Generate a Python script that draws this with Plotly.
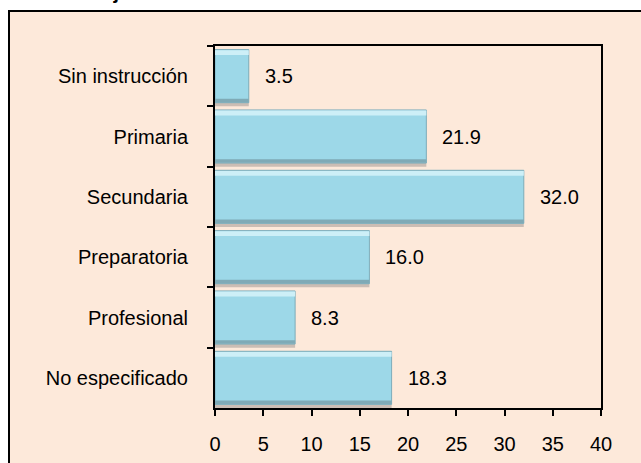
import plotly.graph_objects as go

categories = ["Sin instrucción", "Primaria", "Secundaria", "Preparatoria", "Profesional", "No especificado"]
values = [3.5, 21.9, 32.0, 16.0, 8.3, 18.3]
x_ticks = [0, 5, 10, 15, 20, 25, 30, 35, 40]

W, H = 641, 463
L, R, T, B = 215, 40, 46, 55
pw, ph = W - L - R, H - T - B
FONT = "Liberation Sans, Arial"

def px(x):
    return (x - L) / pw

def py(y):
    return 1 - (y - T) / ph

fig = go.Figure()
# soft shadow
fig.add_trace(go.Bar(
    y=categories, x=values, orientation="h", width=0.92, offset=-0.42,
    marker=dict(color="rgba(110,110,110,0.35)", line=dict(width=0)),
    hoverinfo="skip", showlegend=False,
))
# main bar
fig.add_trace(go.Bar(
    y=categories, x=values, orientation="h", width=0.88, offset=-0.44,
    marker=dict(color="#9DD8E8", line=dict(color="#7FAEBB", width=1)),
    showlegend=False,
))
# top highlight
fig.add_trace(go.Bar(
    y=categories, x=values, orientation="h", width=0.08, offset=-0.43,
    marker=dict(color="#CDEFF7", line=dict(width=0)),
    hoverinfo="skip", showlegend=False,
))
# bottom darker bevel
fig.add_trace(go.Bar(
    y=categories, x=values, orientation="h", width=0.06, offset=0.375,
    marker=dict(color="#7FAAB6", line=dict(width=0)),
    hoverinfo="skip", showlegend=False,
))

for c, v in zip(categories, values):
    fig.add_annotation(x=v, y=c, text=f"{v:.1f}", showarrow=False,
                       xanchor="left", xshift=14,
                       font=dict(family=FONT, size=20, color="#000"))

# title partially cut off at top (as in the reference)
fig.add_annotation(xref="paper", yref="paper", x=px(26), y=py(5), text="<b>Porcentaje</b>",
                   showarrow=False, xanchor="left", yanchor="bottom",
                   font=dict(family=FONT, size=20, color="#000"))

fig.add_shape(type="rect", xref="paper", yref="paper",
              x0=px(9), x1=px(660), y0=py(11), y1=py(480),
              fillcolor="#FDE9DA", line=dict(color="#000", width=2), layer="below")

fig.update_layout(
    width=W, height=H,
    margin=dict(l=L, r=R, t=T, b=B, autoexpand=False),
    paper_bgcolor="white", plot_bgcolor="white",
    font=dict(family=FONT, size=20, color="#000"),
    barmode="overlay",
    xaxis=dict(range=[0, 40], tickvals=x_ticks, ticks="outside", ticklen=6, tickwidth=2,
               tickcolor="#000", showline=True, linecolor="#000", linewidth=2, mirror=True,
               showgrid=False, zeroline=False, ticklabelstandoff=11, automargin=False,
               tickfont=dict(size=20)),
    yaxis=dict(categoryorder="array", categoryarray=categories, autorange="reversed",
               ticks="outside", ticklen=6, tickwidth=2, tickcolor="#000", tickson="boundaries",
               showline=True, linecolor="#000", linewidth=2, mirror=True, showgrid=False,
               ticklabelstandoff=21, automargin=False, tickfont=dict(size=20)),
)

fig.write_html("out.html", config={"displayModeBar": False},
               post_script="document.body.style.margin='0';")
